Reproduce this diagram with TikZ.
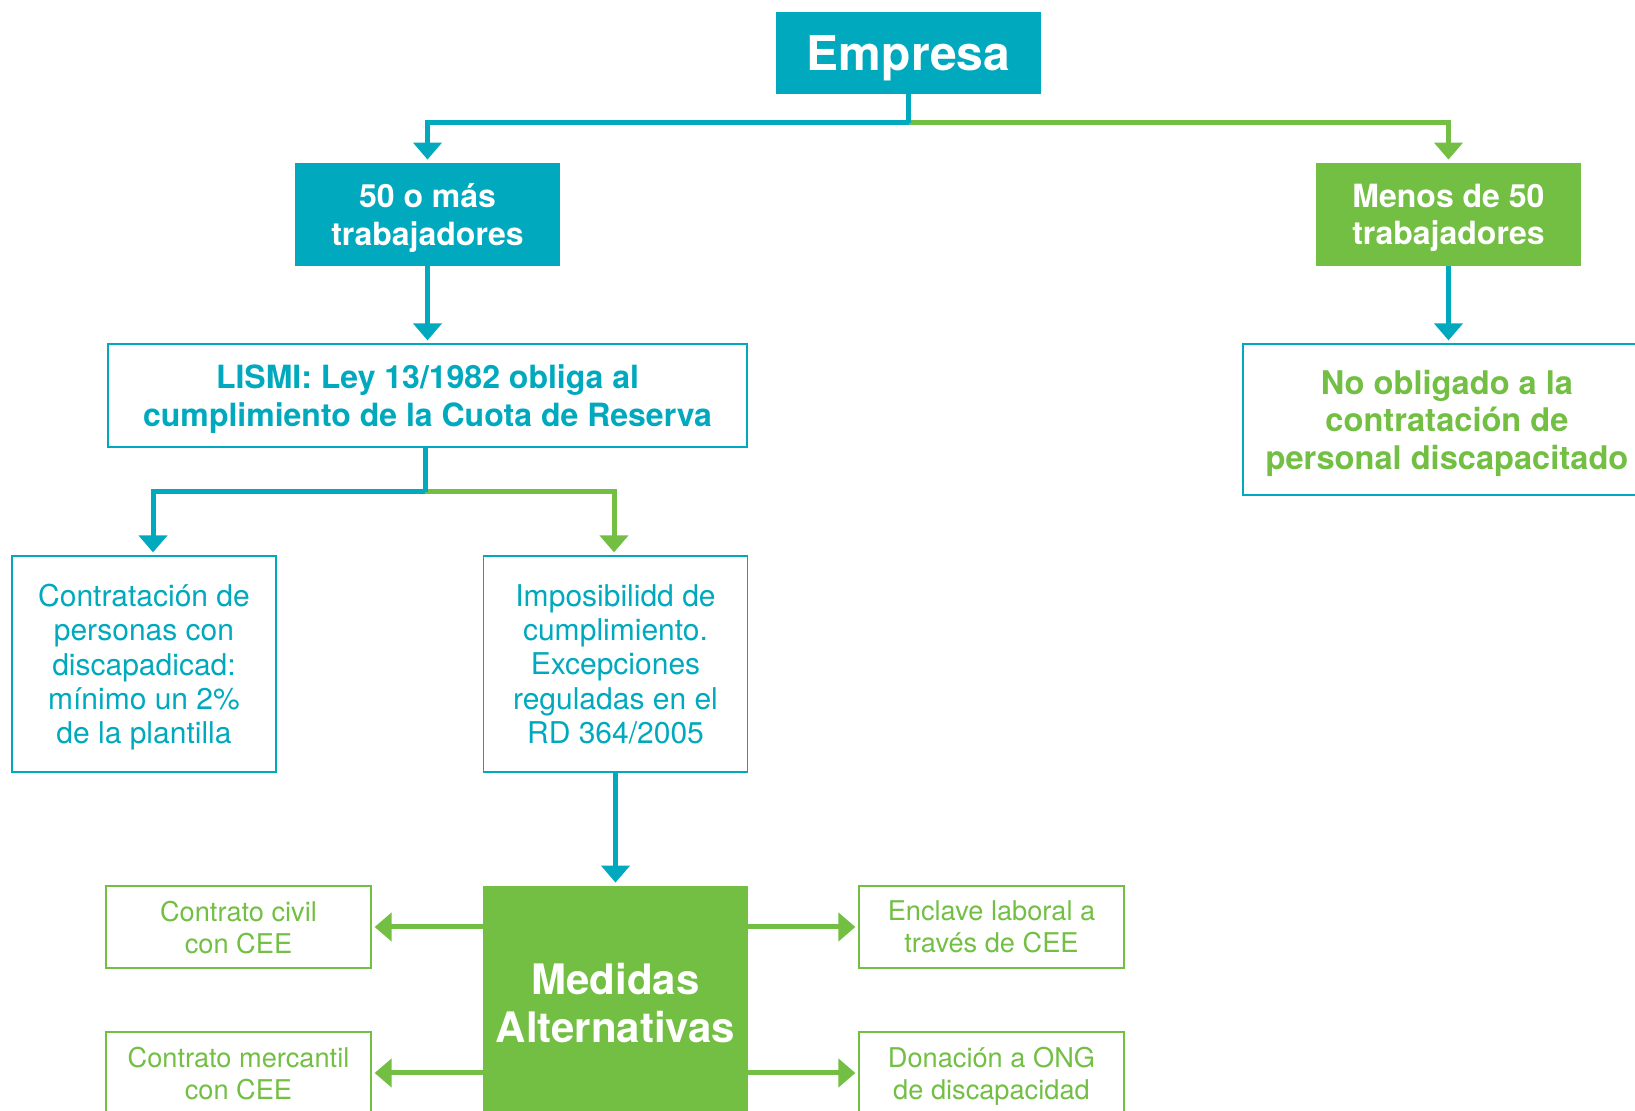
\documentclass[tikz,border=0pt]{standalone}
\usepackage{fontspec}
\setmainfont{TeX Gyre Heros}
\usetikzlibrary{arrows.meta}
\definecolor{turq}{HTML}{00A9BD}
\definecolor{verde}{HTML}{72BF44}
\tikzset{
	caja/.style = {align=center, inner sep=0pt, text centered, text depth=0pt},
	caja_t/.style = {caja, fill=turq, text=white, minimum width=132.5pt},
	caja_v/.style = {caja, fill=verde, text=white, minimum width=132.5pt},
	caja_b/.style = {caja, draw=turq, line width=0.6pt, text=turq},
	caja_bv/.style = {caja, draw=verde, line width=0.6pt, text=verde,
		minimum width=132.5pt, minimum height=41pt,
		font=\fontsize{13.6}{16}\selectfont},
	f_negrita/.style = {font=\fontsize{16}{18.8}\selectfont\bfseries},
	f_texto/.style = {font=\fontsize{15}{17.2}\selectfont},
	linea/.style = {line width=2.5pt},
	flecha/.style = {linea, -{Triangle[width=14pt,length=8.5pt]}, shorten >=1.5pt}
}
\begin{document}
\begin{tikzpicture}[x=0.5pt,y=-0.5pt]
\useasboundingbox (0,0) rectangle (1635,1111);
\clip (0,0) rectangle (1635,1111);
\node [caja_t, minimum height=41pt, font=\fontsize{24}{28}\selectfont\bfseries]
	(empresa) at (908.5,53) {Empresa};
\node [caja_t, f_negrita, minimum height=51.5pt] (mas50) at (427.5,214.5) {50 o más\\trabajadores};
\node [caja_v, f_negrita, minimum height=51.5pt] (menos50) at (1448.5,214.5) {Menos de 50\\trabajadores};
\node [caja_b, f_negrita, minimum width=319.5pt, minimum height=51.5pt]
	(lismi) at (427.5,395.5) {LISMI: Ley 13/1982 obliga al\\cumplimiento de la Cuota de Reserva};
\node [caja_b, f_negrita, text=verde, minimum width=204pt, minimum height=75.5pt,
	font=\fontsize{16.3}{18.8}\selectfont\bfseries]
	(noobl) at (1447,419.5) {No obligado a la\\contratación de\\personal discapacitado};
\node [caja_b, f_texto, minimum width=132pt, minimum height=108pt]
	(contrat) at (144,664) {Contratación de\\personas con\\discapadicad:\\mínimo un 2\%\\de la plantilla};
\node [caja_b, f_texto, minimum width=132pt, minimum height=108pt]
	(imposib) at (615.5,664) {Imposibilidd de\\cumplimiento.\\Excepciones\\reguladas en el\\RD 364/2005};
\node [caja_v, minimum height=117pt, font=\fontsize{21}{24}\selectfont\bfseries]
	(medidas) at (615.5,1003) {Medidas\\Alternativas};
\node [caja_bv] (civil) at (238.5,927) {Contrato civil\\con CEE};
\node [caja_bv] (mercantil) at (238.5,1073) {Contrato mercantil\\con CEE};
\node [caja_bv] (enclave) at (991.5,927) {Enclave laboral a\\través de CEE};
\node [caja_bv] (donacion) at (991.5,1073) {Donación a ONG\\de discapacidad};
\coordinate (j1) at (908.5,123);
\coordinate (j2) at (425,492);
\draw [flecha, verde] (j1) -| (menos50.north);
\draw [flecha, turq] (j1) -| (mas50.north);
\draw [linea, turq] (empresa.south) -- (j1);
\draw [flecha, turq] (mas50.south) -- (lismi.north);
\draw [flecha, turq] (menos50.south) -- (menos50.south |- noobl.north);
\draw [flecha, verde] (j2) -| (imposib.north -| 614,0);
\draw [flecha, turq] (j2) -| (contrat.north -| 153,0);
\draw [linea, turq] (lismi.south -| j2) -- (j2);
\draw [flecha, turq] (imposib.south) -- (medidas.north);
\draw [flecha, verde] (medidas.west |- civil.east) -- (civil.east);
\draw [flecha, verde] (medidas.west |- mercantil.east) -- (mercantil.east);
\draw [flecha, verde] (medidas.east |- enclave.west) -- (enclave.west);
\draw [flecha, verde] (medidas.east |- donacion.west) -- (donacion.west);
\end{tikzpicture}
\end{document}
